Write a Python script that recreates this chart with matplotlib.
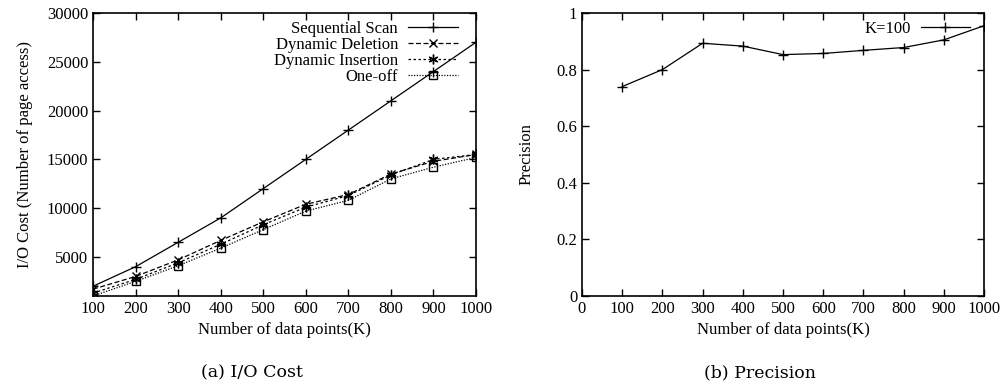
import matplotlib.pyplot as plt
import numpy as np

# data
points = [100, 200, 300, 400, 500, 600, 700, 800, 900, 1000]
seq_scan = [2000, 4000, 6500, 9000, 12000, 15000, 18000, 21000, 24000, 27000]
dyn_deletion = [1700, 3000, 4700, 6700, 8600, 10400, 11400, 13500, 14800, 15500]
dyn_insertion = [1300, 2700, 4400, 6300, 8300, 10100, 11300, 13400, 15000, 15500]
one_off = [1000, 2500, 4100, 5900, 7800, 9700, 10800, 13000, 14200, 15200]
precision_k100 = [0.74, 0.80, 0.893, 0.883, 0.853, 0.857, 0.868, 0.878, 0.905, 0.955]

plt.rcParams['font.family'] = ['Liberation Serif', 'DejaVu Serif']
plt.rcParams['font.size'] = 12

fig = plt.figure(figsize=(10, 3.87), dpi=100)
ax1 = fig.add_axes([0.093, 1 - 296 / 387, 0.383, 283 / 387])
ax2 = fig.add_axes([0.582, 1 - 296 / 387, 0.402, 283 / 387])

lw = 0.9
ax1.plot(points, seq_scan, color='black', lw=lw, marker='+', ms=7, mew=1,
         label='Sequential Scan')
ax1.plot(points, dyn_deletion, color='black', lw=lw, ls=(0, (4, 2)), marker='x',
         ms=6, mew=1, label='Dynamic Deletion')
ax1.plot(points, dyn_insertion, color='black', lw=lw, ls=(0, (2, 2)), marker=(6, 2, 0),
         ms=7, mew=1, label='Dynamic Insertion')
ax1.plot(points, one_off, color='black', lw=lw, ls=(0, (1, 1.2)), marker='s',
         mfc='none', ms=6, mew=1, label='One-off')
ax1.set_xlim(100, 1000)
ax1.set_ylim(1000, 30000)
ax1.set_xticks(points)
ax1.set_yticks([5000, 10000, 15000, 20000, 25000, 30000])
ax1.set_xlabel('Number of data points(K)')
ax1.set_ylabel('I/O Cost (Number of page access)', labelpad=10)
ax1.legend(loc='upper right', frameon=False, markerfirst=False, handlelength=3.0,
           labelspacing=0.0, borderaxespad=0.1, handletextpad=0.6,
           bbox_to_anchor=(0.975, 1.0))

ax2.plot(points, precision_k100, color='black', lw=lw, marker='+', ms=7, mew=1,
         label='K=100')
ax2.set_xlim(0, 1000)
ax2.set_ylim(0, 1)
ax2.set_xticks([0] + points)
ax2.set_yticks([0, 0.2, 0.4, 0.6, 0.8, 1])
ax2.set_yticklabels(['0', '0.2', '0.4', '0.6', '0.8', '1'])
ax2.set_xlabel('Number of data points(K)')
ax2.set_ylabel('Precision', labelpad=16)
ax2.legend(loc='upper right', frameon=False, markerfirst=False, handlelength=2.9,
           borderaxespad=0.1, handletextpad=0.6, bbox_to_anchor=(0.985, 1.0))

for ax in (ax1, ax2):
    ax.tick_params(direction='in', top=True, right=True, length=5, width=1)
    for s in ax.spines.values():
        s.set_linewidth(1.2)

fig.text(0.252, 1 - 373 / 387, '(a) I/O Cost', ha='center', va='center',
         family=['DejaVu Serif'], fontsize=12.5)
fig.text(0.760, 1 - 373 / 387, '(b) Precision', ha='center', va='center',
         family=['DejaVu Serif'], fontsize=12.5)

fig.savefig('out.png', dpi=100)
